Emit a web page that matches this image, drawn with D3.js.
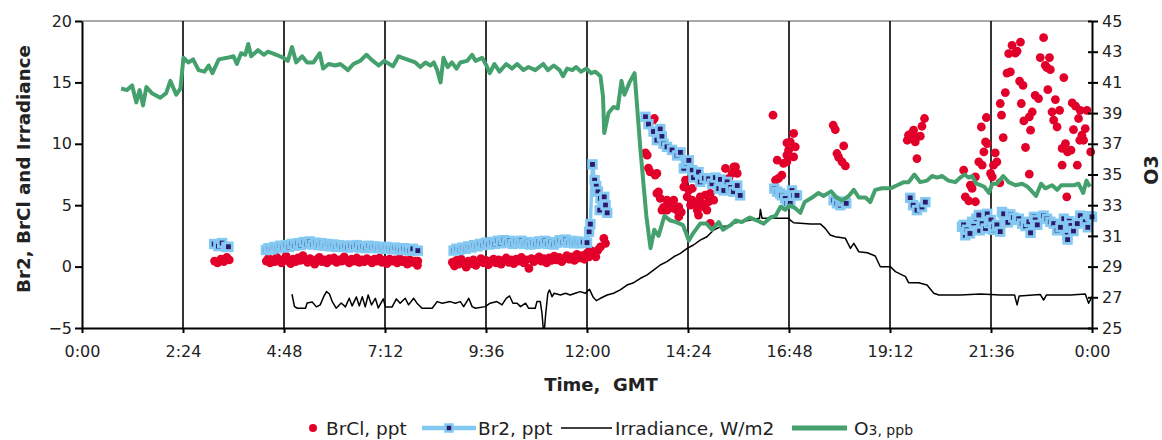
<!DOCTYPE html>
<html>
<head>
<meta charset="utf-8">
<script src="https://cdn.jsdelivr.net/npm/d3@7"></script>
<style>
  body { margin: 0; background: #fff; }
  svg { display: block; }
  .axis text { font-family: "DejaVu Sans", sans-serif; font-size: 16px; fill: #222; }
  .axis path, .axis line { stroke: #000; stroke-width: 2px; }
  .title { font-family: "DejaVu Sans", sans-serif; font-weight: bold; fill: #222; }
  .legend text { font-family: "DejaVu Sans", sans-serif; font-size: 18.5px; fill: #222; }
</style>
</head>
<body>
<svg id="chart" width="1162" height="440"></svg>
<script>
// x axis in hours of the day (GMT)
var xTicks = [0, 2.4, 4.8, 7.2, 9.6, 12, 14.4, 16.8, 19.2, 21.6, 24];
var xTickLabels = ["0:00", "2:24", "4:48", "7:12", "9:36", "12:00", "14:24", "16:48", "19:12", "21:36", "0:00"];
var leftTicks = [-5, 0, 5, 10, 15, 20];
var rightTicks = [25, 27, 29, 31, 33, 35, 37, 39, 41, 43, 45];

// BrCl, ppt  [hour, value]
var brclPoints = [
	[3.15,0.45],[3.22,0.3],[3.3,0.6],[3.37,0.4],[3.44,0.75],[3.5,0.55],
	[4.38,0.45],[4.43,0.7],[4.47,0.3],[4.52,0.55],[4.58,0.4],[4.63,0.75],[4.69,0.5],[4.74,0.3],[4.8,0.6],[4.85,0.85],
	[4.91,0.45],[4.96,0.25],[5.02,0.6],[5.08,0.4],[5.13,0.7],[5.19,0.5],[5.25,0.9],[5.3,0.55],[5.36,0.35],[5.42,0.65],
	[5.47,0.45],[5.53,0.2],[5.59,0.6],[5.64,0.75],[5.7,0.4],[5.76,0.55],[5.82,0.3],[5.88,0.65],[5.93,0.5],[5.99,0.7],
	[6.05,0.35],[6.11,0.55],[6.17,0.45],[6.23,0.8],[6.29,0.5],[6.35,0.3],[6.41,0.6],[6.47,0.45],[6.53,0.7],[6.59,0.35],
	[6.65,0.55],[6.71,0.4],[6.77,0.65],[6.83,0.5],[6.89,0.3],[6.95,0.6],[7.01,0.45],[7.07,0.7],[7.13,0.35],[7.19,0.5],
	[7.25,0.25],[7.31,0.6],[7.37,0.45],[7.43,0.55],[7.49,0.3],[7.55,0.65],[7.61,0.4],[7.67,0.5],[7.73,0.2],[7.79,0.55],
	[7.85,0.35],[7.91,0.45],[7.97,0.1],[7.98,0.45],
	[8.8,0.35],[8.85,0.05],[8.9,0.5],[8.95,0.2],[9.01,0.6],[9.07,0.3],[9.13,-0.05],[9.18,0.45],[9.24,0.25],[9.3,0.55],
	[9.36,0.1],[9.42,0.4],[9.48,0.65],[9.54,0.3],[9.6,0.5],[9.66,0.15],[9.72,0.45],[9.78,0.6],[9.84,0.3],[9.9,0.55],
	[9.96,0.2],[10.02,0.5],[10.08,0.7],[10.14,0.35],[10.2,0.55],[10.26,0.25],[10.32,0.6],[10.38,0.45],[10.44,0.75],[10.5,0.3],
	[10.56,0.55],[10.62,-0.15],[10.68,0.65],[10.74,0.4],[10.8,0.6],[10.86,0.8],[10.92,0.45],[10.98,0.65],[11.04,0.3],[11.1,0.7],
	[11.16,0.5],[11.22,0.85],[11.28,0.55],[11.34,0.75],[11.4,0.4],[11.46,0.65],[11.52,0.9],[11.58,0.6],[11.64,0.8],[11.7,0.5],
	[11.76,1.0],[11.82,0.7],[11.88,0.9],[11.94,0.6],[12.0,1.1],[12.05,0.8],[12.1,1.3],[12.16,0.95],[12.21,0.8],[12.26,1.35],
	[12.32,1.6],[12.4,2.3],[12.44,1.9],
	[13.6,12.06],[13.57,11.92],[13.39,9.26],[13.43,9.07],[13.5,7.72],[13.46,8.02],[13.62,7.45],[13.66,7.59],[13.66,5.96],
	[13.7,6.09],[13.74,5.55],[13.82,4.82],[13.9,4.6],[13.78,4.6],[13.94,5.15],[13.9,5.41],[14.06,5.41],[14.06,4.74],
	[14.14,4.6],[14.18,4.87],[14.18,4.06],[14.24,4.44],[14.3,6.5],[14.34,7.04],[14.38,5.68],[14.42,6.23],[14.46,5.01],
	[14.5,6.37],[14.5,5.41],[14.58,5.17],[14.62,4.6],[14.65,4.2],[14.69,5.68],[14.73,5.15],[14.77,4.87],[14.81,5.82],
	[14.85,4.6],[14.89,5.28],[14.93,5.96],[14.93,3.52],[15.01,5.41],[15.29,7.99],[15.37,7.18],[15.45,7.59],[15.49,8.12],
	[15.53,8.12],[15.57,7.59],
	[16.42,12.33],[16.91,10.84],[16.83,10.15],[16.75,10.07],[16.95,9.75],[16.79,9.48],[16.75,9.07],[16.91,8.93],[16.52,8.67],
	[16.67,8.4],[16.75,8.53],[16.63,7.45],[16.55,7.18],[16.48,7.04],
	[17.85,11.51],[17.9,11.16],[18.1,9.83],[17.94,9.21],[17.98,8.89],[18.06,8.53],[18.14,8.2],
	[19.61,10.29],[19.68,10.43],[19.72,10.84],[19.76,11.11],[19.8,10.15],[19.84,10.56],[19.92,10.62],[19.96,11.43],
	[20.02,12.06],[19.84,8.8],[19.64,10.7],
	[20.95,7.85],[20.99,5.68],[21.07,5.36],[21.23,5.28],[21.11,6.63],[21.15,6.37],[21.23,7.31],[21.31,8.53],[21.39,8.26],
	[21.43,9.34],[21.47,10.15],[21.51,10.02],[21.37,11.37],[21.49,12.14],[21.59,7.59],[21.66,8.26],[21.7,9.26],[21.74,8.53],
	[21.63,7.31],[21.81,6.82],[21.89,10.51],[21.85,12.33],[21.82,13.28],[21.94,14.17],[21.98,15.76],[22.06,15.85],
	[22.02,17.34],[22.1,18.02],[22.18,17.39],[22.22,17.55],[22.3,18.28],[22.28,15.11],[22.36,14.76],[22.32,13.28],
	[22.38,11.86],[22.42,9.7],[22.51,12.19],[22.54,11.11],[22.58,12.59],[22.51,7.53],[22.65,13.95],[22.73,13.68],
	[22.77,17.02],[22.85,18.64],[22.89,16.39],[22.99,17.02],[22.93,16.2],[23.01,16.04],[22.95,14.41],[23.09,11.92],
	[23.05,12.59],[23.13,13.6],[23.17,11.37],[23.23,12.73],[23.33,15.39],[23.29,9.62],[23.37,10.02],[23.42,9.34],
	[23.29,8.26],[23.53,13.33],[23.61,13.06],[23.68,12.06],[23.72,12.73],[23.56,11.16],[23.65,8.26],[23.76,10.7],
	[23.84,11.24],[23.88,12.73],[23.8,10.29],[23.71,10.29],[23.97,9.34],[23.4,5.68],[23.5,9.48]
];

// Br2, ppt  [hour, value]
var br2Points = [
	[3.14,1.84],[3.24,1.67],[3.33,1.92],[3.43,1.59],[3.48,1.62],
	[4.37,1.35],[4.43,1.5],[4.5,1.4],[4.57,1.6],[4.64,1.5],[4.71,1.7],[4.78,1.55],[4.85,1.75],[4.92,1.6],[4.99,1.85],
	[5.06,1.7],[5.13,1.9],[5.2,1.75],[5.27,2.0],[5.34,1.85],[5.41,2.05],[5.48,1.8],[5.55,1.95],[5.62,1.75],[5.69,1.9],
	[5.76,1.7],[5.83,1.85],[5.9,1.65],[5.97,1.8],[6.04,1.6],[6.11,1.75],[6.18,1.6],[6.25,1.7],[6.32,1.55],[6.39,1.7],
	[6.46,1.6],[6.53,1.75],[6.6,1.55],[6.67,1.65],[6.74,1.5],[6.81,1.7],[6.88,1.55],[6.95,1.65],[7.02,1.5],[7.09,1.6],
	[7.16,1.45],[7.23,1.6],[7.3,1.5],[7.37,1.4],[7.44,1.55],[7.51,1.45],[7.58,1.35],[7.65,1.5],[7.72,1.4],[7.79,1.3],
	[7.86,1.45],[7.98,1.3],
	[8.83,1.3],[8.9,1.45],[8.97,1.35],[9.04,1.55],[9.11,1.45],[9.18,1.65],[9.25,1.55],[9.32,1.75],[9.39,1.65],[9.46,1.85],
	[9.53,1.75],[9.6,1.95],[9.67,1.8],[9.74,2.0],[9.81,1.85],[9.88,2.1],[9.95,1.9],[10.02,2.15],[10.09,1.95],[10.16,2.1],
	[10.23,1.85],[10.3,2.05],[10.37,1.9],[10.44,2.1],[10.51,1.85],[10.58,2.0],[10.65,1.8],[10.72,1.95],[10.79,1.85],
	[10.86,2.05],[10.93,1.9],[11.0,2.1],[11.07,1.85],[11.14,2.0],[11.21,1.8],[11.28,1.95],[11.35,2.15],[11.42,2.0],
	[11.49,2.2],[11.56,1.95],[11.63,2.1],[11.7,1.9],[11.77,2.05],[11.84,1.9],[11.91,2.0],[12.0,1.95],
	[12.05,2.84],[12.08,3.46],[12.13,8.32],[12.18,7.04],[12.22,6.55],[12.26,6.09],[12.3,4.6],[12.32,5.55],[12.41,5.68],
	[12.44,5.01],[12.48,4.38],
	[13.39,12.2],[13.46,11.6],[13.58,11.0],[13.66,10.3],[13.74,11.2],[13.78,10.6],[13.82,10.0],[13.9,9.75],[14.02,9.5],
	[14.14,9.05],[14.22,9.3],[14.3,8.0],[14.36,8.4],[14.42,8.65],[14.5,7.85],[14.53,7.25],[14.65,7.7],[14.69,6.9],
	[14.79,7.2],[14.89,7.15],[14.97,6.75],[15.05,7.25],[15.13,6.35],[15.17,7.1],[15.25,6.2],[15.33,6.9],[15.41,6.45],
	[15.48,6.1],[15.57,6.6],[15.64,5.8],
	[16.45,6.35],[16.52,6.1],[16.59,5.95],[16.63,5.8],[16.71,5.55],[16.75,5.15],[16.83,5.15],[16.87,6.2],[16.91,5.8],[16.99,5.8],
	[17.86,5.4],[17.94,5.15],[18.02,5.0],[18.09,5.3],[18.16,5.15],
	[19.68,5.6],[19.75,5.0],[19.84,4.6],[19.96,4.85],[20.04,5.25],
	[20.91,3.25],[20.95,3.4],[20.99,2.55],[21.03,3.0],[21.1,2.7],[21.15,3.65],[21.19,3.55],[21.25,3.9],[21.31,4.2],
	[21.33,2.95],[21.39,3.5],[21.47,3.1],[21.51,4.3],[21.55,3.55],[21.6,3.8],[21.65,3.0],[21.66,3.25],[21.74,3.4],
	[21.82,2.85],[21.86,4.45],[21.9,4.3],[22.0,3.6],[22.06,4.25],[22.13,4.0],[22.22,3.8],[22.26,3.9],[22.34,3.5],
	[22.42,3.3],[22.5,3.65],[22.54,2.75],[22.62,4.05],[22.65,3.8],[22.7,3.4],[22.85,4.15],[22.93,3.9],[23.01,3.65],
	[23.09,3.5],[23.17,2.95],[23.25,3.2],[23.33,3.9],[23.41,2.55],[23.42,2.2],[23.46,3.7],[23.5,3.35],[23.56,2.9],
	[23.65,3.5],[23.72,4.15],[23.84,3.65],[23.9,3.2],[23.96,4.1],[24.0,4.05]
];

// Irradiance, W/m2 (left axis)  [hour, value]
var irradiancePoints = [
	[4.99,-2.25],[5.05,-3.26],[5.12,-3.39],[5.31,-3.39],[5.35,-2.96],[5.47,-2.88],[5.57,-3.28],[5.66,-3.12],[5.74,-2.47],
	[5.81,-2.04],[5.88,-2.23],[5.95,-2.88],[6.04,-3.39],[6.16,-2.96],[6.26,-3.28],[6.35,-2.58],[6.42,-3.2],[6.52,-2.47],
	[6.59,-3.2],[6.66,-2.45],[6.73,-3.28],[6.8,-2.31],[6.88,-3.12],[6.97,-2.58],[7.04,-3.37],[7.16,-2.63],[7.21,-3.28],
	[7.37,-3.28],[7.47,-2.63],[7.56,-2.98],[7.68,-2.58],[7.76,-3.12],[7.88,-2.58],[7.96,-2.98],[8.08,-3.39],[8.32,-3.39],
	[8.44,-2.85],[8.56,-2.98],[8.75,-2.85],[8.87,-2.98],[8.99,-2.85],[9.07,-3.26],[9.19,-2.58],[9.27,-3.26],[9.35,-3.39],
	[9.58,-3.26],[9.7,-2.98],[9.86,-2.85],[9.98,-3.12],[10.08,-2.58],[10.16,-2.39],[10.24,-2.98],[10.34,-2.98],[10.42,-3.26],
	[10.54,-2.98],[10.61,-3.39],[10.77,-3.39],[10.81,-2.85],[10.89,-2.85],[10.93,-3.8],[10.96,-5.02],[10.99,-5.02],
	[11.02,-3.8],[11.07,-2.17],[11.11,-1.9],[11.17,-2.45],[11.22,-2.17],[11.37,-2.31],[11.49,-2.17],[11.6,-2.31],
	[11.72,-2.17],[11.84,-2.04],[11.96,-2.17],[12.06,-1.85],[12.14,-2.45],[12.22,-2.77],[12.32,-2.58],[12.48,-2.31],
	[12.63,-2.17],[12.79,-1.9],[12.95,-1.5],[13.11,-1.31],[13.27,-0.95],[13.43,-0.68],[13.58,-0.28],[13.74,0.13],
	[13.9,0.4],[14.06,0.8],[14.22,1.08],[14.38,1.49],[14.53,1.76],[14.69,2.16],[14.85,2.43],[15.01,2.98],[15.17,3.24],
	[15.33,3.3],[15.49,3.52],[15.64,3.65],[15.8,3.73],[15.96,3.85],[16.1,3.93],[16.12,4.66],[16.16,3.93],[16.79,3.93],
	[16.83,3.79],[16.91,3.57],[17.31,3.46],[17.55,3.46],[17.66,3.11],[17.78,2.57],[17.9,2.43],[18.14,2.3],[18.26,1.49],
	[18.34,1.89],[18.46,1.21],[18.66,1.13],[18.85,0.86],[18.97,-0.01],[19.21,-0.01],[19.33,-0.41],[19.57,-0.82],
	[19.64,-1.31],[19.88,-1.31],[20.08,-1.5],[20.24,-2.17],[20.36,-2.31],[20.87,-2.31],[21.35,-2.23],[21.82,-2.31],
	[22.16,-2.31],[22.22,-3.12],[22.27,-2.39],[22.77,-2.27],[22.85,-2.72],[22.92,-2.31],[23.49,-2.31],[23.84,-2.23],
	[23.92,-2.98],[24.0,-2.45]
];

// O3, ppb (right axis)  [hour, value]
var o3Points = [
	[0.93,40.6],[1.07,40.5],[1.19,40.8],[1.29,39.7],[1.37,40.5],[1.45,39.5],[1.53,40.7],[1.66,40.3],[1.86,40.0],[2.0,40.3],
	[2.1,41.1],[2.24,40.2],[2.34,40.6],[2.41,42.6],[2.53,42.3],[2.64,42.5],[2.77,41.8],[2.91,41.7],[3.01,42.1],[3.1,41.6],
	[3.25,42.5],[3.45,42.6],[3.6,42.7],[3.68,42.2],[3.78,42.9],[3.88,42.8],[3.95,43.5],[4.02,42.7],[4.18,43.1],[4.32,42.8],
	[4.42,43.0],[4.62,42.8],[4.79,42.6],[4.89,42.4],[4.99,43.3],[5.09,42.3],[5.23,42.7],[5.35,42.3],[5.5,42.3],[5.65,42.9],
	[5.73,41.9],[5.86,42.2],[6.02,42.1],[6.14,42.2],[6.32,41.8],[6.45,42.2],[6.61,42.4],[6.76,42.8],[6.87,42.5],[7.05,42.1],
	[7.18,42.4],[7.39,42.05],[7.52,42.7],[7.72,42.5],[7.92,42.3],[8.04,42.0],[8.16,42.3],[8.28,42.1],[8.36,42.3],[8.44,41.8],
	[8.52,41.0],[8.59,42.6],[8.69,42.0],[8.79,42.3],[8.9,41.9],[8.99,42.3],[9.15,42.4],[9.27,42.8],[9.35,42.4],[9.51,42.6],
	[9.61,42.1],[9.69,41.6],[9.8,42.2],[9.92,41.7],[10.08,42.2],[10.22,41.9],[10.34,42.2],[10.49,41.8],[10.61,42.0],
	[10.77,41.8],[10.96,42.2],[11.07,41.8],[11.21,42.1],[11.35,41.8],[11.43,41.4],[11.53,41.9],[11.65,41.8],[11.74,42.0],
	[11.86,41.7],[11.98,41.9],[12.1,41.6],[12.2,41.7],[12.32,41.4],[12.38,40.1],[12.41,37.7],[12.51,39.0],[12.63,39.4],
	[12.73,39.3],[12.82,41.1],[12.89,40.2],[13.01,41.0],[13.13,41.6],[13.27,36.6],[13.41,32.3],[13.51,30.2],[13.6,31.4],
	[13.7,31.0],[13.84,32.3],[13.98,32.0],[14.12,31.9],[14.28,31.7],[14.42,30.7],[14.53,31.2],[14.69,31.8],[14.84,31.8],
	[14.97,31.4],[15.13,31.9],[15.23,31.4],[15.41,31.7],[15.53,32.0],[15.68,31.9],[15.87,32.2],[16.04,32.0],[16.2,31.8],
	[16.36,32.2],[16.48,32.3],[16.6,32.9],[16.71,32.7],[16.82,33.0],[16.95,32.8],[17.07,32.5],[17.17,33.2],[17.35,33.5],
	[17.5,33.8],[17.62,33.6],[17.8,33.9],[17.93,33.5],[18.06,33.3],[18.22,33.6],[18.34,34.0],[18.46,33.5],[18.62,33.5],
	[18.73,33.2],[18.85,34.0],[19.01,34.1],[19.21,34.1],[19.37,34.3],[19.53,34.5],[19.64,34.5],[19.78,35.0],[19.92,34.5],
	[20.08,34.6],[20.2,34.9],[20.32,34.8],[20.44,34.9],[20.59,34.6],[20.75,34.5],[20.87,34.8],[20.97,35.0],[21.07,34.8],
	[21.15,34.9],[21.25,34.4],[21.36,34.3],[21.44,34.2],[21.55,33.8],[21.63,34.4],[21.74,34.4],[21.89,34.9],[22.02,34.5],
	[22.18,34.3],[22.34,34.4],[22.47,34.2],[22.54,34.0],[22.67,33.6],[22.79,34.4],[22.89,34.1],[23.05,34.3],[23.17,34.0],
	[23.27,34.3],[23.41,34.3],[23.57,34.3],[23.68,34.4],[23.79,33.8],[23.87,34.6],[23.95,34.2]
];

var colors = {
	brcl: "#e2002b",
	br2Line: "#84c9f1",
	br2Fill: "#2d1a6c",
	irr: "#000",
	o3: "#44a06c"
};

var svg = d3.select("#chart"),
	plot = { left: 82, right: 1092, top: 21, bottom: 328 };

var x = d3.scaleLinear().domain([0, 24]).range([plot.left, plot.right]);
var yLeft = d3.scaleLinear().domain([-5, 20]).range([plot.bottom, plot.top]);
var yRight = d3.scaleLinear().domain([25, 45]).range([plot.bottom, plot.top]);

/*
frame & grid
*/
svg.append("line")
	.attr("x1", plot.left).attr("x2", plot.right)
	.attr("y1", plot.top).attr("y2", plot.top)
	.attr("stroke", "#555").attr("stroke-width", 1);
svg.append("g").selectAll("line")
	.data(xTicks.slice(1, -1)).enter()
	.append("line")
	.attr("x1", function(d) { return x(d); })
	.attr("x2", function(d) { return x(d); })
	.attr("y1", plot.top).attr("y2", plot.bottom)
	.attr("stroke", "#000").attr("stroke-width", 1.6);

/*
series
*/
var gBrcl = svg.append("g");
gBrcl.selectAll("circle")
	.data(brclPoints).enter()
	.append("circle")
	.attr("cx", function(d) { return x(d[0]); })
	.attr("cy", function(d) { return yLeft(d[1]); })
	.attr("r", 4.4)
	.attr("fill", colors.brcl);

// Br2 is a connected series with gaps between the measurement periods
var br2Sorted = br2Points.slice().sort(function(a, b) { return a[0] - b[0]; });
var br2Segments = [], seg = [];
br2Sorted.forEach(function(d, i) {
	if (i > 0 && d[0] - br2Sorted[i - 1][0] > 0.25) {
		br2Segments.push(seg);
		seg = [];
	}
	seg.push(d);
});
br2Segments.push(seg);

var lineLeft = d3.line()
	.x(function(d) { return x(d[0]); })
	.y(function(d) { return yLeft(d[1]); });

var gBr2 = svg.append("g");
gBr2.selectAll("path")
	.data(br2Segments).enter()
	.append("path")
	.attr("d", lineLeft)
	.attr("fill", "none")
	.attr("stroke", colors.br2Line)
	.attr("stroke-width", 3.5);
gBr2.selectAll("rect")
	.data(br2Sorted).enter()
	.append("rect")
	.attr("x", function(d) { return x(d[0]) - 3.8; })
	.attr("y", function(d) { return yLeft(d[1]) - 3.8; })
	.attr("width", 7.6).attr("height", 7.6)
	.attr("fill", colors.br2Fill)
	.attr("stroke", colors.br2Line)
	.attr("stroke-width", 2.8);

svg.append("path")
	.datum(irradiancePoints)
	.attr("d", lineLeft)
	.attr("fill", "none")
	.attr("stroke", colors.irr)
	.attr("stroke-width", 1.5)
	.attr("stroke-linejoin", "round");

var lineRight = d3.line()
	.x(function(d) { return x(d[0]); })
	.y(function(d) { return yRight(d[1]); });
svg.append("path")
	.datum(o3Points)
	.attr("d", lineRight)
	.attr("fill", "none")
	.attr("stroke", colors.o3)
	.attr("stroke-width", 4)
	.attr("stroke-linejoin", "round");

/*
axes
*/
svg.append("g").attr("class", "axis")
	.attr("transform", "translate(" + plot.left + ",0)")
	.call(d3.axisLeft(yLeft).tickValues(leftTicks).tickSize(7).tickPadding(3).tickSizeOuter(0));

var gRight = svg.append("g").attr("class", "axis")
	.attr("transform", "translate(" + plot.right + ",0)")
	.call(d3.axisRight(yRight).tickValues(rightTicks).tickSize(6).tickPadding(4).tickSizeOuter(0));
gRight.selectAll(".tick line").attr("x1", -4);

svg.append("g").attr("class", "axis")
	.attr("transform", "translate(0," + plot.bottom + ")")
	.call(d3.axisBottom(x).tickValues(xTicks).tickSize(5).tickPadding(13).tickSizeOuter(0)
		.tickFormat(function(d, i) { return xTickLabels[i]; }));

svg.selectAll(".axis .domain").attr("stroke-width", 2);

/*
titles
*/
svg.append("text").attr("class", "title")
	.attr("transform", "translate(29.5,169) rotate(-90)")
	.attr("text-anchor", "middle")
	.style("font-size", "18.3px")
	.text("Br2, BrCl and Irradiance");
svg.append("text").attr("class", "title")
	.attr("transform", "translate(1158,170) rotate(-90)")
	.attr("text-anchor", "middle")
	.style("font-size", "19px")
	.text("O3");
svg.append("text").attr("class", "title")
	.attr("x", 601).attr("y", 391)
	.attr("text-anchor", "middle")
	.style("font-size", "18px")
	.text("Time,\u00a0 GMT");

/*
legend
*/
var legendY = 428;
var gLeg = svg.append("g").attr("class", "legend");
gLeg.append("circle").attr("cx", 313).attr("cy", legendY).attr("r", 4).attr("fill", colors.brcl);
gLeg.append("text").attr("x", 326).attr("y", legendY).attr("dy", "0.36em").text("BrCl, ppt");

gLeg.append("line").attr("x1", 422).attr("x2", 476).attr("y1", legendY).attr("y2", legendY)
	.attr("stroke", colors.br2Line).attr("stroke-width", 4.5);
gLeg.append("rect").attr("x", 445.5).attr("y", legendY - 3.5).attr("width", 7).attr("height", 7)
	.attr("fill", colors.br2Fill).attr("stroke", colors.br2Line).attr("stroke-width", 2.5);
gLeg.append("text").attr("x", 478).attr("y", legendY).attr("dy", "0.36em").text("Br2, ppt");

gLeg.append("line").attr("x1", 561).attr("x2", 612).attr("y1", legendY).attr("y2", legendY)
	.attr("stroke", colors.irr).attr("stroke-width", 1.5);
gLeg.append("text").attr("x", 615).attr("y", legendY).attr("dy", "0.36em").text("Irradiance, W/m2");

gLeg.append("line").attr("x1", 792).attr("x2", 847).attr("y1", legendY).attr("y2", legendY)
	.attr("stroke", colors.o3).attr("stroke-width", 5);
var o3Label = gLeg.append("text").attr("x", 854).attr("y", legendY).attr("dy", "0.36em");
o3Label.append("tspan").text("O");
o3Label.append("tspan").style("font-size", "14px").text("3, ppb");
</script>
</body>
</html>
